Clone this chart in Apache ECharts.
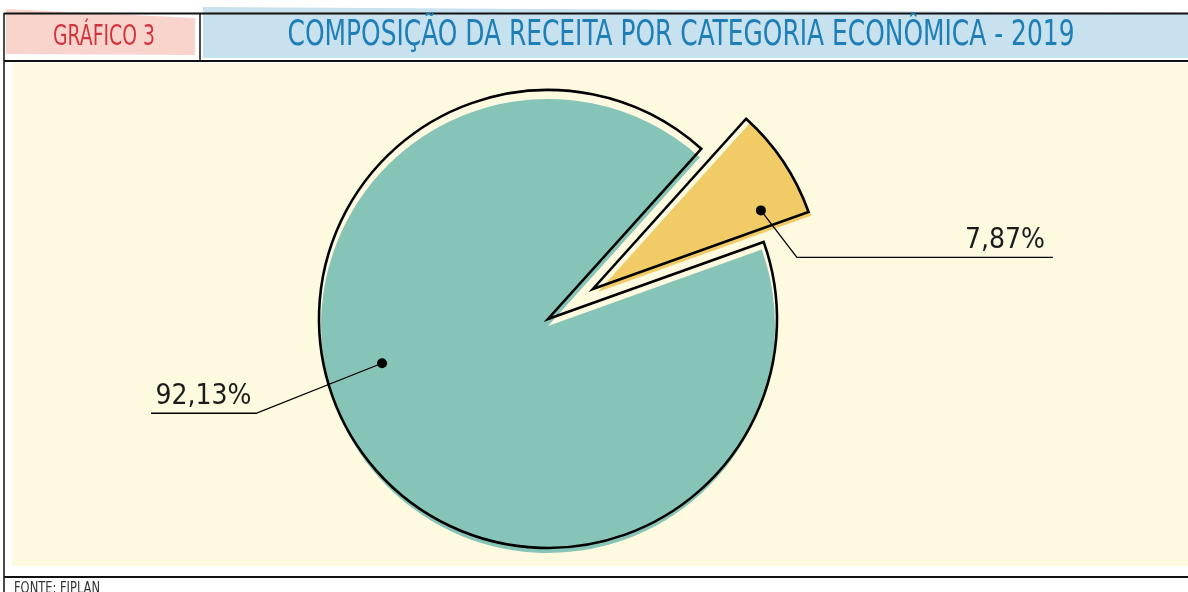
<!DOCTYPE html>
<html><head><meta charset="utf-8">
<script src="https://cdn.jsdelivr.net/npm/echarts@6/dist/echarts.min.js"></script>
<style>html,body{margin:0;padding:0;background:#fff}#c{width:1188px;height:592px}</style>
</head><body><div id="c"></div>
<script>
// ---- data ----
const categories = ['Receitas de Capital', 'Receitas Correntes'];
const values = [7.87, 92.13];
const sliceColors = ['#F1CB66', '#86C4B7'];
const chartTitle = 'COMPOSIÇÃO DA RECEITA POR CATEGORIA ECONÔMICA - 2019';
const chartTag = 'GRÁFICO 3';
const sourceNote = 'FONTE: FIPLAN';

// ---- helpers ----
const NARROW = '"Liberation Sans Narrow", "DejaVu Sans Condensed", sans-serif';
function fmt(v) { return v.toFixed(2).replace('.', ',') + '%'; }
function measure(text, font) {
  const c = document.createElement('canvas').getContext('2d');
  c.font = font; return c.measureText(text).width;
}
function fitText(text, size, targetW, cx, cy, color) {
  const font = size + 'px ' + NARROW;
  const s = targetW / measure(text, font);
  return { type: 'text', x: cx, y: cy, scaleX: s, z: 50,
    style: { text, fill: color, font, align: 'center', verticalAlign: 'middle', textAlign: 'center', textVerticalAlign: 'middle' } };
}

const START = 48, OFFSET = 54;
function pieData(visible) {
  return categories.map((name, i) => ({
    name, value: values[i], selected: i === 0,
    itemStyle: { color: (visible === null || visible === i) ? sliceColors[i] : 'rgba(0,0,0,0)' }
  }));
}
const common = { type: 'pie', startAngle: START, clockwise: true, animation: false, silent: true,
  avoidLabelOverlap: false, emphasis: { disabled: true, scale: false },
  label: { show: false }, labelLine: { show: false } };

const series = [
  Object.assign({}, common, { z: 2, center: [548, 326], radius: 227, selectedMode: false, data: pieData(1) }),
  Object.assign({}, common, { z: 2, center: [553, 322], radius: 227, selectedMode: 'single', selectedOffset: OFFSET, data: pieData(0) }),
  Object.assign({}, common, { z: 3, center: [548, 319], radius: 229, selectedMode: 'single', selectedOffset: OFFSET,
    data: categories.map((name, i) => ({ name, value: values[i], selected: i === 0 })),
    itemStyle: { color: 'rgba(0,0,0,0)', borderColor: '#000', borderWidth: 2.6, borderJoin: 'miter' } })
];

const frame = [
  { type: 'rect', z: -20, shape: { x: 12, y: 63, width: 1176, height: 503 }, style: { fill: '#FEFADF' } },
  { type: 'polygon', z: -15, shape: { points: [[6, 9], [195, 18], [195, 55], [6, 54]] }, style: { fill: '#F9D4CD' } },
  { type: 'polygon', z: -15, shape: { points: [[203, 7], [700, 10], [1188, 13], [1188, 58], [203, 58]] }, style: { fill: '#C8E1EE' } },
  { type: 'line', z: -10, shape: { x1: 4, y1: 13.5, x2: 1188, y2: 13.5 }, style: { stroke: '#111', lineWidth: 2 } },
  { type: 'line', z: -10, shape: { x1: 4, y1: 61, x2: 1188, y2: 61 }, style: { stroke: '#111', lineWidth: 2 } },
  { type: 'line', z: -10, shape: { x1: 4, y1: 13, x2: 4, y2: 592 }, style: { stroke: '#111', lineWidth: 1.5 } },
  { type: 'line', z: -10, shape: { x1: 200, y1: 13, x2: 200, y2: 62 }, style: { stroke: '#111', lineWidth: 1.5 } },
  { type: 'line', z: -10, shape: { x1: 4, y1: 577, x2: 1188, y2: 577 }, style: { stroke: '#111', lineWidth: 2.2 } },
  fitText(chartTag, 29, 102, 104, 37, '#D2343C'),
  fitText(chartTitle, 36, 787, 681, 36, '#1E7FB6'),
  fitText(sourceNote, 15, 86, 57, 589, '#333')
];

const chart = echarts.init(document.getElementById('c'));
chart.setOption({ backgroundColor: '#fff', graphic: { elements: frame }, series });

// ---- label anchors derived from the library's pie layout ----
const pdata = chart.getModel().getSeriesByIndex(2).getData();
function anchor(i, angFrac, rFrac) {
  const L = pdata.getItemLayout(i);
  let cx = L.cx, cy = L.cy;
  if (i === 0) { const mid = (L.startAngle + L.endAngle) / 2; cx += OFFSET * Math.cos(mid); cy += OFFSET * Math.sin(mid); }
  const a = L.startAngle + (L.endAngle - L.startAngle) * angFrac;
  return [cx + L.r * rFrac * Math.cos(a), cy + L.r * rFrac * Math.sin(a)];
}
const dots = [anchor(0, 0.81, 0.81), anchor(1, 0.557, 0.75)];
const legs = [[[36, 47], [292, 47]], [[-126, 50], [-231, 50]]];
const labelEls = [];
dots.forEach((d, i) => {
  const p1 = [d[0] + legs[i][0][0], d[1] + legs[i][0][1]];
  const p2 = [d[0] + legs[i][1][0], d[1] + legs[i][1][1]];
  labelEls.push({ type: 'polyline', z: 90, shape: { points: [d, p1, p2] }, style: { stroke: '#000', lineWidth: 1.3, fill: null } });
  labelEls.push({ type: 'circle', z: 100, shape: { cx: d[0], cy: d[1], r: 5 }, style: { fill: '#000' } });
  const font = '28px ' + NARROW;
  const tx = i === 0 ? p2[0] - 8 : (p1[0] + p2[0]) / 2;
  const al = i === 0 ? 'right' : 'center';
  labelEls.push({ type: 'text', z: 100, x: tx, y: p2[1] - 3,
    style: { text: fmt(values[i]), fill: '#1b1b1b', font, align: al, textAlign: al, verticalAlign: 'bottom', textVerticalAlign: 'bottom' } });
});

chart.setOption({ graphic: { elements: frame.concat(labelEls) } });
</script></body></html>
